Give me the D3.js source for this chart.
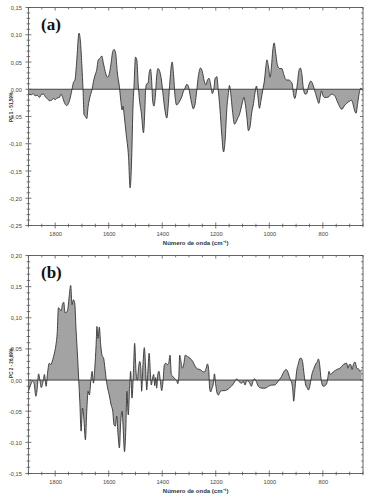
<!DOCTYPE html>
<html><head><meta charset="utf-8">
<script src="https://cdn.jsdelivr.net/npm/d3@7"></script>
<style>
body{margin:0;background:#fff;}
svg{display:block;font-family:Arial,"Liberation Sans",sans-serif;}
</style></head>
<body><svg id="c" width="368" height="498"></svg>
<script>
// ---- Data ----
const xTicksMajor = [1800, 1600, 1400, 1200, 1000, 800];
const xDomain = [1900, 650];
const yTicksA = [0.15, 0.10, 0.05, 0.00, -0.05, -0.10, -0.15, -0.20, -0.25];
const yTicksB = [0.20, 0.15, 0.10, 0.05, 0.00, -0.05, -0.10, -0.15];
const panelLabels = ["(a)", "(b)"];
const yTitles = ["PC 1 - 51,59%", "PC 2 - 26,69%"];
const xTitle = "Número de onda (cm⁻¹)";

const wavenumberA = [1900,1888,1882,1875,1867,1859,1850,1844,1835,1829,1822,1813,1807,1800,1792,1784,1778,1772,1766,1757,1748,1742,1737,1732,1726,1720,1711,1705,1700,1696,1692,1687,1682,1677,1670,1662,1657,1651,1645,1639,1632,1626,1620,1611,1605,1599,1592,1585,1580,1574,1568,1560,1555,1550,1546,1543,1535,1526,1520,1514,1510,1505,1500,1495,1490,1485,1478,1470,1465,1462,1458,1453,1449,1444,1439,1436,1431,1426,1421,1416,1409,1403,1396,1390,1383,1377,1371,1363,1358,1352,1346,1340,1333,1327,1321,1315,1308,1302,1296,1290,1284,1277,1271,1265,1257,1250,1244,1237,1231,1225,1219,1213,1206,1203,1196,1191,1184,1178,1171,1165,1159,1153,1149,1144,1138,1130,1124,1118,1112,1107,1100,1095,1090,1084,1078,1072,1066,1059,1053,1048,1043,1037,1031,1024,1018,1013,1009,1003,997,992,987,982,976,970,962,953,947,941,935,926,920,915,910,905,900,895,889,884,878,873,866,860,854,845,839,833,827,820,815,810,805,800,794,785,778,773,767,761,754,748,739,729,721,711,701,693,688,682,676,670,663,658,652];
const pc1 = [-0.009,-0.010,-0.008,-0.012,-0.011,-0.015,-0.009,-0.009,-0.015,-0.017,-0.021,-0.020,-0.017,-0.019,-0.016,-0.015,-0.009,-0.015,-0.024,-0.030,-0.023,-0.012,0.000,0.012,0.017,0.048,0.103,0.084,0.041,0.000,-0.047,-0.050,-0.054,-0.032,-0.014,0.000,0.014,0.026,0.035,0.054,0.057,0.061,0.048,0.029,0.022,0.026,0.045,0.069,0.073,0.066,0.032,0.004,-0.020,-0.038,-0.031,-0.044,-0.081,-0.124,-0.181,-0.124,-0.044,0.011,0.059,0.054,0.011,-0.020,-0.044,-0.080,-0.038,0.000,0.010,0.011,0.029,0.037,0.011,-0.020,-0.031,-0.014,0.023,0.038,0.032,0.017,-0.014,-0.038,-0.053,-0.026,0.017,0.050,0.029,-0.014,-0.029,-0.026,-0.020,-0.014,-0.004,0.002,0.009,0.005,-0.011,-0.026,-0.036,-0.026,-0.002,0.024,0.039,0.032,0.017,0.008,0.017,0.020,0.008,-0.008,0.005,0.019,0.023,0.000,-0.038,-0.081,-0.115,-0.093,-0.038,-0.008,0.007,-0.008,-0.038,-0.064,-0.060,-0.053,-0.047,-0.038,-0.023,-0.015,-0.026,-0.050,-0.076,-0.069,-0.044,-0.026,-0.005,0.006,-0.011,-0.035,-0.020,0.000,0.017,0.041,0.054,0.041,0.022,0.041,0.072,0.085,0.066,0.045,0.038,0.038,0.029,0.020,0.017,0.017,0.014,0.011,-0.008,-0.017,-0.008,0.011,0.035,0.039,0.026,0.002,-0.009,-0.008,0.005,0.015,0.011,0.002,-0.008,-0.020,-0.026,-0.014,-0.003,-0.011,-0.015,-0.015,-0.014,-0.011,-0.009,-0.010,-0.013,-0.020,-0.030,-0.037,-0.031,-0.026,-0.022,-0.020,-0.026,-0.038,-0.044,-0.026,-0.004,0.002,-0.002];

const wavenumberB = [1900,1892,1885,1879,1872,1867,1862,1857,1852,1845,1840,1834,1828,1822,1816,1809,1803,1797,1792,1788,1783,1778,1773,1768,1763,1757,1752,1747,1742,1737,1732,1727,1722,1716,1712,1708,1703,1698,1693,1687,1682,1677,1672,1667,1662,1657,1652,1647,1644,1640,1635,1630,1625,1619,1614,1609,1604,1598,1591,1585,1580,1575,1570,1565,1560,1555,1550,1546,1541,1536,1532,1527,1522,1518,1513,1508,1503,1498,1493,1488,1484,1480,1477,1472,1467,1462,1458,1453,1449,1444,1441,1436,1432,1428,1424,1421,1416,1412,1407,1402,1397,1392,1387,1381,1376,1371,1366,1361,1353,1346,1342,1338,1335,1330,1325,1319,1314,1306,1296,1286,1277,1269,1259,1250,1243,1236,1231,1226,1223,1219,1214,1209,1205,1200,1195,1190,1184,1178,1169,1159,1147,1134,1127,1122,1116,1109,1103,1097,1091,1084,1078,1072,1067,1061,1056,1049,1041,1028,1016,1003,991,981,972,962,954,945,937,929,922,916,912,909,904,898,891,885,881,876,870,864,858,854,848,841,833,825,820,817,812,807,802,798,792,785,782,777,772,766,758,748,736,723,711,706,701,696,691,686,680,673,667,661,655];
const pc2 = [-0.018,-0.008,-0.002,-0.005,-0.026,-0.013,0.010,0.000,-0.012,-0.002,0.009,-0.010,0.013,0.027,0.025,0.033,0.043,0.057,0.078,0.116,0.114,0.111,0.121,0.125,0.108,0.109,0.116,0.137,0.152,0.121,0.129,0.124,0.081,0.035,0.000,-0.034,-0.082,-0.045,-0.061,-0.096,-0.050,-0.018,-0.024,-0.002,0.014,-0.005,0.019,0.057,0.086,0.067,0.085,0.057,0.040,0.035,0.019,0.000,-0.013,-0.024,-0.040,-0.050,-0.072,-0.074,-0.058,-0.088,-0.109,-0.066,-0.050,-0.077,-0.115,-0.077,-0.018,-0.056,-0.013,0.014,-0.029,0.009,0.059,0.014,0.000,0.022,0.030,0.019,-0.018,0.025,0.052,0.019,-0.016,0.019,0.043,0.009,-0.008,0.003,0.009,-0.009,0.004,-0.013,0.011,0.014,-0.002,-0.017,-0.002,0.025,0.027,0.025,0.027,0.040,0.009,0.006,0.002,-0.001,-0.006,0.006,0.040,0.030,0.019,0.027,0.040,0.038,0.035,0.030,0.022,0.018,0.017,0.014,0.013,0.019,0.026,0.014,-0.013,-0.019,-0.013,-0.005,0.010,-0.008,-0.021,-0.024,-0.019,-0.017,-0.017,-0.016,-0.012,-0.006,-0.001,0.002,-0.001,-0.004,-0.005,-0.002,-0.008,-0.001,-0.002,-0.006,-0.010,-0.002,0.002,-0.002,-0.010,-0.013,-0.013,-0.010,-0.008,-0.008,-0.005,0.001,0.006,0.014,0.017,0.011,0.001,-0.005,-0.018,-0.034,-0.013,0.014,0.027,0.035,0.035,0.030,0.009,-0.008,-0.013,-0.016,-0.008,0.009,0.019,0.027,0.030,0.034,0.025,0.003,-0.008,-0.010,-0.009,-0.005,0.002,0.014,0.009,0.011,0.014,0.017,0.019,0.025,0.027,0.019,0.025,0.025,0.017,0.025,0.029,0.019,0.018,0.014,0.017];

// ---- Drawing ----
const svg = d3.select("#c");
const X0 = 28.4, X1 = 363;
const panels = [
  {top: 7.5, bottom: 225.5, domain: [-0.25, 0.15], ticks: yTicksA, wn: wavenumberA, val: pc1, titleY: 107},
  {top: 255.5, bottom: 473.5, domain: [-0.15, 0.20], ticks: yTicksB, wn: wavenumberB, val: pc2, titleY: 363}
];
const fmt = v => d3.format(".2f")(v).replace(".", ",").replace("−", "-");
const axisColor = "#555";
const tickFont = 5.7;

panels.forEach((p, i) => {
  const x = d3.scaleLinear().domain(xDomain).range([X0, X1]);
  const y = d3.scaleLinear().domain(p.domain).range([p.bottom, p.top]);
  const g = svg.append("g");
  const pts = p.wn.map((w, k) => [w, p.val[k]]);

  // area fill to zero
  const area = d3.area().x(d => x(d[0])).y0(y(0)).y1(d => y(d[1])).curve(d3.curveMonotoneX);
  g.append("path").datum(pts).attr("d", area).attr("fill", "#a3a3a3");
  // zero line
  g.append("line").attr("x1", X0).attr("x2", X1).attr("y1", y(0)).attr("y2", y(0))
    .attr("stroke", "#444").attr("stroke-width", 1);
  // curve
  const line = d3.line().x(d => x(d[0])).y(d => y(d[1])).curve(d3.curveMonotoneX);
  g.append("path").datum(pts).attr("d", line).attr("fill", "none")
    .attr("stroke", "#333").attr("stroke-width", 0.9);

  // minor ticks
  const xMinor = d3.range(1900, 649, -50).filter(v => v % 200 !== 0);
  const [ymin, ymax] = p.domain;
  const yMinor = d3.range(Math.round(ymin*100), Math.round(ymax*100)+1).map(v => v/100).filter(v => Math.round(v*100) % 5 !== 0);

  // bottom axis (ticks cross line)
  const bx = d3.axisBottom(x).tickValues(xTicksMajor).tickSize(0).tickFormat(d => d);
  const bottomG = g.append("g").attr("transform", `translate(0,${p.bottom})`).call(bx);
  bottomG.select(".domain").remove();
  bottomG.selectAll("text").attr("dy", null).attr("y", 10)
    .attr("font-size", tickFont).attr("fill", "#444");
  g.selectAll(null).data(xTicksMajor).join("line")
    .attr("x1", d => x(d)).attr("x2", d => x(d)).attr("y1", p.bottom - 3).attr("y2", p.bottom + 3)
    .attr("stroke", axisColor).attr("stroke-width", 0.8);
  g.selectAll(null).data(xMinor).join("line")
    .attr("x1", d => x(d)).attr("x2", d => x(d)).attr("y1", p.bottom - 1.8).attr("y2", p.bottom + 1.8)
    .attr("stroke", axisColor).attr("stroke-width", 0.8);
  // top ticks (inward)
  g.selectAll(null).data(xTicksMajor).join("line")
    .attr("x1", d => x(d)).attr("x2", d => x(d)).attr("y1", p.top).attr("y2", p.top + 3)
    .attr("stroke", axisColor).attr("stroke-width", 0.8);
  g.selectAll(null).data(xMinor).join("line")
    .attr("x1", d => x(d)).attr("x2", d => x(d)).attr("y1", p.top).attr("y2", p.top + 1.8)
    .attr("stroke", axisColor).attr("stroke-width", 0.8);

  // left axis
  const ly = d3.axisLeft(y).tickValues(p.ticks).tickSize(0).tickFormat(fmt);
  const leftG = g.append("g").attr("transform", `translate(${X0},0)`).call(ly);
  leftG.select(".domain").remove();
  leftG.selectAll("text").attr("x", -6.5).attr("dy", "0.35em")
    .attr("font-size", tickFont).attr("fill", "#444");
  g.selectAll(null).data(p.ticks).join("line")
    .attr("x1", X0 - 3).attr("x2", X0 + 3).attr("y1", d => y(d)).attr("y2", d => y(d))
    .attr("stroke", axisColor).attr("stroke-width", 0.8);
  g.selectAll(null).data(yMinor).join("line")
    .attr("x1", X0 - 1.8).attr("x2", X0 + 1.8).attr("y1", d => y(d)).attr("y2", d => y(d))
    .attr("stroke", axisColor).attr("stroke-width", 0.8);
  // right ticks (inward)
  g.selectAll(null).data(p.ticks).join("line")
    .attr("x1", X1 - 3).attr("x2", X1).attr("y1", d => y(d)).attr("y2", d => y(d))
    .attr("stroke", axisColor).attr("stroke-width", 0.8);
  g.selectAll(null).data(yMinor).join("line")
    .attr("x1", X1 - 1.8).attr("x2", X1).attr("y1", d => y(d)).attr("y2", d => y(d))
    .attr("stroke", axisColor).attr("stroke-width", 0.8);

  // frame
  g.append("rect").attr("x", X0).attr("y", p.top).attr("width", X1 - X0).attr("height", p.bottom - p.top)
    .attr("fill", "none").attr("stroke", axisColor).attr("stroke-width", 0.9);

  // titles
  g.append("text").attr("x", (X0 + X1) / 2).attr("y", p.bottom + 19.5)
    .attr("text-anchor", "middle").attr("font-size", 6).attr("font-weight", "bold").attr("fill", "#333")
    .text(xTitle);
  g.append("text").attr("transform", `translate(12.5,${p.titleY}) rotate(-90)`)
    .attr("text-anchor", "middle").attr("font-size", 4.6).attr("font-weight", "bold").attr("fill", "#333")
    .text(yTitles[i]);
  g.append("text").attr("x", 41).attr("y", p.top + 22)
    .attr("font-family", "'Liberation Serif','Times New Roman',serif").attr("font-weight", "bold")
    .attr("font-size", 17).attr("fill", "#111").text(panelLabels[i]);
});
</script></body></html>
